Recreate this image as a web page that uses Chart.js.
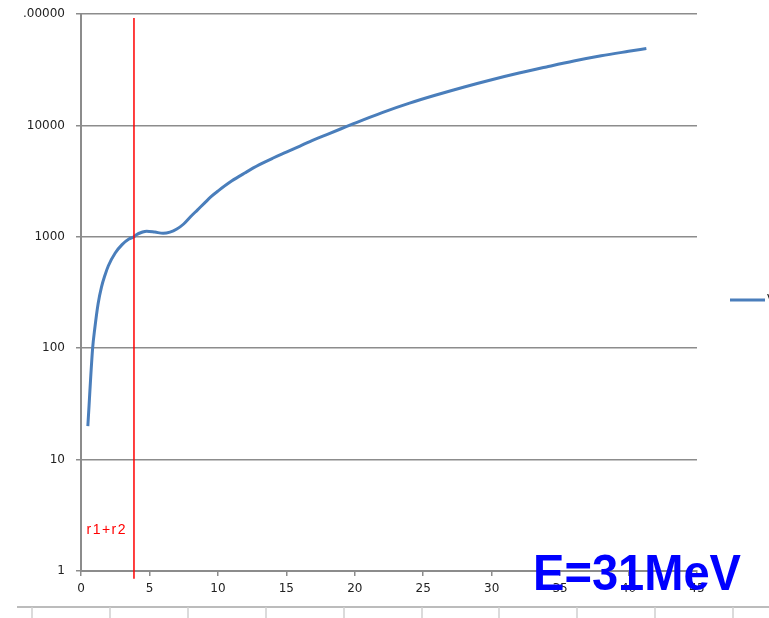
<!DOCTYPE html>
<html>
<head>
<meta charset="utf-8">
<script src="https://cdn.jsdelivr.net/npm/chart.js@4.4.1/dist/chart.umd.min.js"></script>
<style>
	html, body { margin: 0; padding: 0; background: #fff; overflow: hidden; }
	#wrap { position: relative; width: 769px; height: 618px; }
</style>
</head>
<body>
<div id="wrap"><canvas id="potential"></canvas></div>
<script>
// distance r and potential V (log scale)
const rValues = [0.5, 0.85, 1, 1.25, 1.5, 1.75, 2, 2.5, 3, 3.5, 3.87, 4, 4.5, 4.8, 5.4, 6, 6.5, 7, 7.5, 8, 8.5, 9, 9.5, 10, 11, 12, 13, 14, 15, 16, 17, 18, 19, 20, 22, 24, 26, 28, 30, 32, 34, 36, 38, 40, 41.3];
const vValues = [20, 100, 148, 251, 355, 452, 550, 716, 851, 955, 1000, 1035, 1104, 1122, 1102, 1076, 1102, 1175, 1303, 1514, 1738, 1995, 2291, 2570, 3162, 3758, 4416, 5070, 5754, 6531, 7413, 8318, 9333, 10471, 13032, 15849, 18836, 22131, 25704, 29512, 33497, 37844, 42170, 46238, 48978];

const xTicks = [0, 5, 10, 15, 20, 25, 30, 35, 40, 45];
const yTicks = [1, 10, 100, 1000, 10000, 100000];
const yTickLabels = ["1", "10", "100", "1000", "10000", ".00000"];

const rContact = 3.87;
const rContactSpan = [0.85, 92000];

const seriesLabel = "V";
const contactLabel = "r1+r2";
const energyLabel = "E=31MeV";

const gridGray = "#8c8c8c";
const tickFont = { family: "DejaVu Sans", size: 12 };

// legend, text labels and the cut-off axis at the bottom of the picture
const extras = {
	id: "extras",
	afterDraw(chart) {
		const ctx = chart.ctx;
		const x = chart.scales.x;
		const y = chart.scales.y;
		const series = chart.data.datasets[0];
		ctx.save();

		// legend entry (runs off the right edge like the original)
		ctx.strokeStyle = series.borderColor;
		ctx.lineWidth = 3;
		ctx.beginPath();
		ctx.moveTo(730, 300);
		ctx.lineTo(765, 300);
		ctx.stroke();
		ctx.fillStyle = "#222";
		ctx.font = "12px 'DejaVu Sans'";
		ctx.textBaseline = "middle";
		ctx.fillText(series.label, 767, 300);

		ctx.fillStyle = "#ff0000";
		ctx.font = "14px 'Liberation Sans'";
		ctx.letterSpacing = "1.5px";
		ctx.fillText(contactLabel, x.getPixelForValue(0.4), y.getPixelForValue(2.35));
		ctx.letterSpacing = "0px";

		ctx.fillStyle = "#0000ff";
		ctx.font = "bold 50px 'Liberation Sans'";
		ctx.textBaseline = "alphabetic";
		ctx.fillText(energyLabel, 533, 590, 208);

		ctx.strokeStyle = "#a6a6a6";
		ctx.lineWidth = 1.5;
		ctx.beginPath();
		ctx.moveTo(17, 607);
		ctx.lineTo(chart.width, 607);
		ctx.stroke();
		ctx.strokeStyle = "#cfcfcf";
		for (let tx = 32; tx < chart.width; tx += 77.9) {
			ctx.beginPath();
			ctx.moveTo(Math.round(tx), 607);
			ctx.lineTo(Math.round(tx), 618);
			ctx.stroke();
		}
		ctx.restore();
	}
};

new Chart(document.querySelector("#potential"), {
	type: "line",
	data: {
		datasets: [{
			label: seriesLabel,
			data: rValues.map((r, i) => ({ x: r, y: vValues[i] })),
			borderColor: "#4a7ebb",
			backgroundColor: "#4a7ebb",
			borderWidth: 3,
			pointRadius: 0,
			cubicInterpolationMode: "monotone",
			order: 1
		}, {
			label: contactLabel,
			data: rContactSpan.map(v => ({ x: rContact, y: v })),
			borderColor: "#ff0000",
			borderWidth: 1.5,
			pointRadius: 0,
			clip: false,
			order: 0
		}]
	},
	options: {
		responsive: true,
		maintainAspectRatio: false,
		animation: false,
		layout: { padding: { top: 14, right: 72, bottom: 0, left: 0 } },
		plugins: {
			tooltip: { enabled: false },
			legend: { display: false }
		},
		scales: {
			x: {
				type: "linear",
				min: 0,
				max: 45,
				afterBuildTicks: scale => { scale.ticks = xTicks.map(v => ({ value: v })); },
				afterFit: scale => { scale.height = 47; },
				ticks: { autoSkip: false, maxRotation: 0, padding: 6, color: "#222", font: tickFont },
				grid: { drawOnChartArea: false, tickLength: 5, color: gridGray, lineWidth: 1.5 },
				border: { color: gridGray, width: 2 }
			},
			y: {
				type: "logarithmic",
				min: 1,
				max: 100000,
				afterBuildTicks: scale => { scale.ticks = yTicks.map(v => ({ value: v })); },
				afterFit: scale => {
					scale.width = 81;
					scale.paddingTop = 0;
					scale.paddingBottom = 0;
				},
				ticks: {
					padding: 11,
					color: "#222",
					font: tickFont,
					callback: (value, index) => yTickLabels[index]
				},
				grid: { tickLength: 5, color: gridGray, lineWidth: 1.5 },
				border: { color: gridGray, width: 2 }
			}
		}
	},
	plugins: [extras]
});
</script>
</body>
</html>
